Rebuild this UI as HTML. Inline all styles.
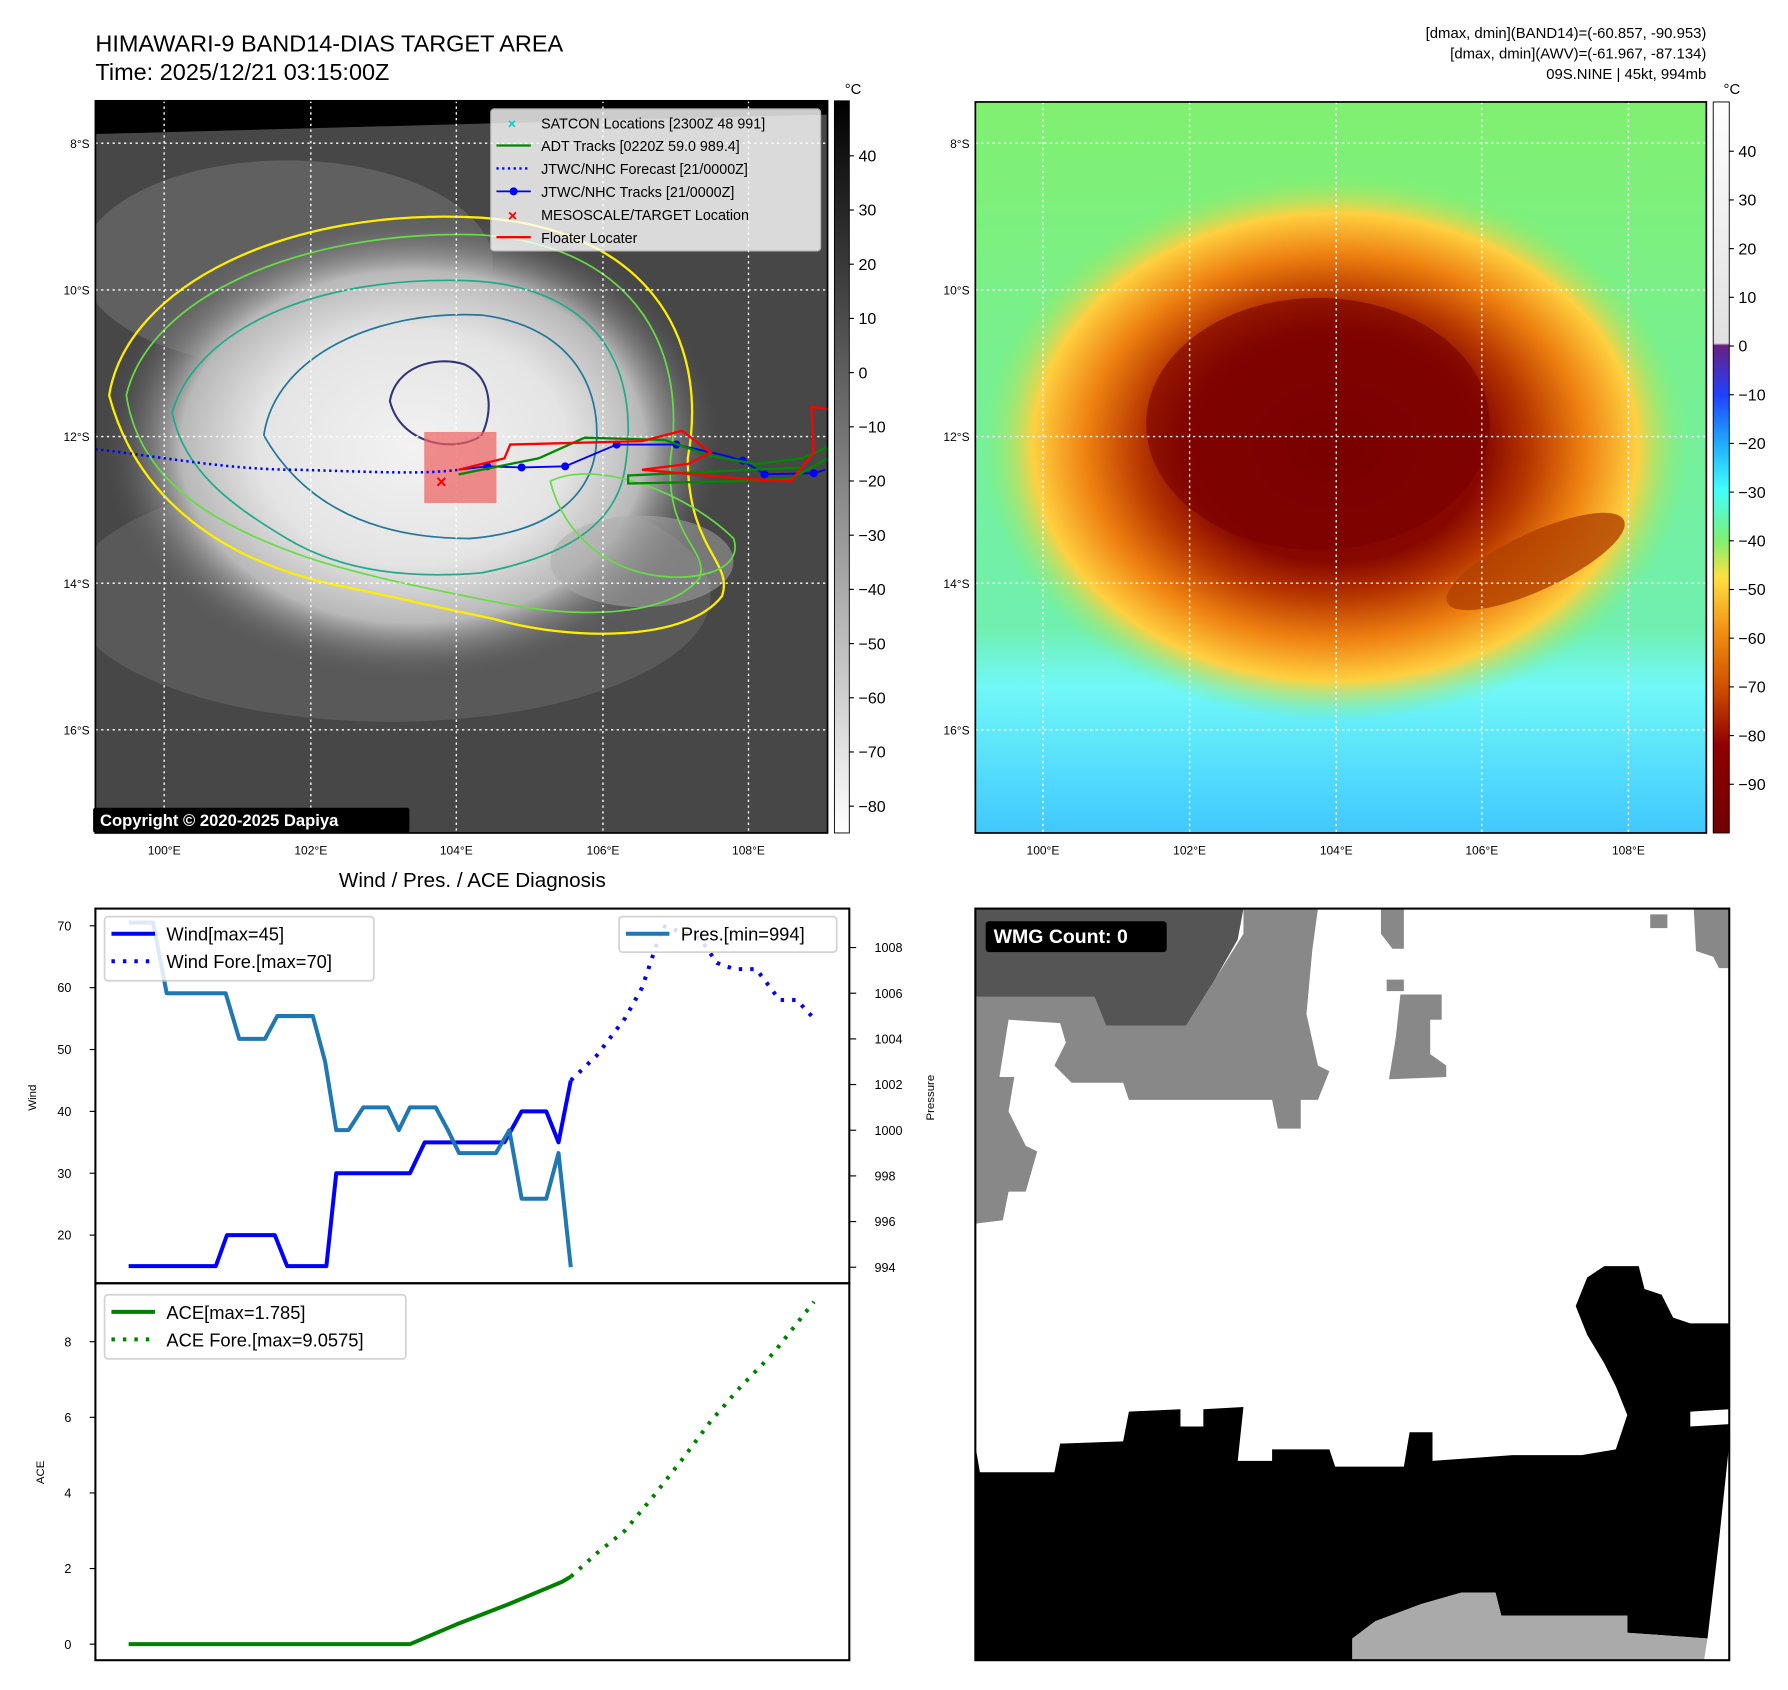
<!DOCTYPE html>
<html><head><meta charset="utf-8"><style>
html,body{margin:0;padding:0;background:#fff;}
svg{display:block;font-family:"Liberation Sans","DejaVu Sans",sans-serif;}
</style></head><body>
<svg id="root" width="1788" height="1690" viewBox="0 0 1560 1475" xmlns="http://www.w3.org/2000/svg">
<defs>
<radialGradient id="cloudL" cx="0.5" cy="0.5" r="0.5">
<stop offset="0" stop-color="#f2f2f2"/><stop offset="0.5" stop-color="#e4e4e4"/><stop offset="0.75" stop-color="#b8b8b8"/><stop offset="1" stop-color="#555" stop-opacity="0"/></radialGradient>
<radialGradient id="ringR" cx="0.5" cy="0.5" r="0.5">
<stop offset="0" stop-color="#7a0000"/><stop offset="0.42" stop-color="#880800"/><stop offset="0.55" stop-color="#b83800"/><stop offset="0.7" stop-color="#ee8010"/><stop offset="0.85" stop-color="#ffd040"/><stop offset="1" stop-color="#80f070" stop-opacity="0"/></radialGradient>
<linearGradient id="bgR" x1="0" y1="0" x2="0" y2="1">
<stop offset="0" stop-color="#80f070"/><stop offset="0.72" stop-color="#70f0b0"/><stop offset="0.8" stop-color="#70f8f8"/><stop offset="1" stop-color="#40c8ff"/></linearGradient>
<linearGradient id="cbL" x1="0" y1="0" x2="0" y2="1"><stop offset="0" stop-color="#000"/><stop offset="1" stop-color="#fff"/></linearGradient>
<linearGradient id="cbR" x1="0" y1="0" x2="0" y2="1">
<stop offset="0" stop-color="#fff"/><stop offset="0.33" stop-color="#e0e0e0"/><stop offset="0.333" stop-color="#6a2080"/><stop offset="0.40" stop-color="#2040ff"/><stop offset="0.47" stop-color="#20b0ff"/><stop offset="0.53" stop-color="#40ffff"/><stop offset="0.6" stop-color="#80f070"/><stop offset="0.65" stop-color="#ffe040"/><stop offset="0.73" stop-color="#f08a10"/><stop offset="0.8" stop-color="#d05000"/><stop offset="0.88" stop-color="#900000"/><stop offset="1" stop-color="#700000"/></linearGradient>
<clipPath id="clipL"><rect x="83" y="88" width="639" height="639"/></clipPath>
<clipPath id="clipR"><rect x="851" y="89" width="638" height="638"/></clipPath>
</defs>

<text x="83" y="45" font-size="20.5">HIMAWARI-9 BAND14-DIAS TARGET AREA</text>
<text x="83" y="70" font-size="20.5">Time: 2025/12/21 03:15:00Z</text>
<g font-size="13" text-anchor="end">
<text x="1489" y="33">[dmax, dmin](BAND14)=(-60.857, -90.953)</text>
<text x="1489" y="51">[dmax, dmin](AWV)=(-61.967, -87.134)</text>
<text x="1489" y="69">09S.NINE | 45kt, 994mb</text>
</g>

<g clip-path="url(#clipL)">
<rect x="83" y="88" width="639" height="639" fill="#474747"/>
<ellipse cx="250" cy="230" rx="180" ry="90" fill="#606060"/>
<ellipse cx="340" cy="520" rx="280" ry="110" fill="#595959"/>
<ellipse cx="360" cy="390" rx="270" ry="205" fill="url(#cloudL)"/>
<ellipse cx="560" cy="490" rx="80" ry="40" fill="#aaa" opacity="0.5"/>
<polygon points="83,88 722,88 722,100 600,103 83,117" fill="#000"/>
<path d="M95,345 C110,250 250,180 420,190 C560,200 620,290 600,400 C600,480 640,490 630,520 C600,560 500,560 430,540 C380,530 340,520 290,510 C200,490 120,440 95,345 Z" fill="none" stroke="#ffee00" stroke-width="2"/>
<path d="M110,345 C130,260 260,200 420,205 C550,215 600,300 585,400 C580,470 620,480 610,505 C580,540 500,540 430,525 C380,515 300,500 250,480 C170,450 120,410 110,345 Z" fill="none" stroke="#66dd44" stroke-width="1.5"/>
<path d="M150,360 C170,290 270,240 410,245 C520,250 560,320 545,410 C535,470 470,490 420,500 C360,505 300,500 250,470 C200,440 160,410 150,360 Z" fill="none" stroke="#22aa88" stroke-width="1.5"/>
<path d="M230,380 C240,310 330,270 420,275 C500,285 525,340 520,390 C515,440 470,465 410,470 C340,470 270,450 230,380 Z" fill="none" stroke="#227799" stroke-width="1.5"/>
<path d="M340,350 C345,320 380,310 405,318 C430,330 430,360 420,380 C400,395 350,390 340,350 Z" fill="none" stroke="#333377" stroke-width="1.8"/>
<path d="M480,420 C520,400 600,430 640,470 C650,500 600,510 560,500 C520,490 490,460 480,420 Z" fill="none" stroke="#66dd44" stroke-width="1.5"/>
<g stroke="#fff" stroke-width="1.2" stroke-dasharray="2,3">
<line x1="143" y1="88" x2="143" y2="727"/><line x1="271" y1="88" x2="271" y2="727"/><line x1="398" y1="88" x2="398" y2="727"/><line x1="526" y1="88" x2="526" y2="727"/><line x1="653" y1="88" x2="653" y2="727"/>
<line x1="83" y1="125" x2="722" y2="125"/><line x1="83" y1="253" x2="722" y2="253"/><line x1="83" y1="381" x2="722" y2="381"/><line x1="83" y1="509" x2="722" y2="509"/><line x1="83" y1="637" x2="722" y2="637"/>
</g>
<rect x="370" y="377" width="63" height="62" fill="#f06060" opacity="0.7"/>
<path d="M83,392 C150,400 200,410 260,410 C330,412 370,414 400,410" fill="none" stroke="#0000ff" stroke-width="2.2" stroke-dasharray="2,3"/>
<polyline points="400,410 425,407 455,408 493,407 538,388 590,388 630,397 648,402 667,414 710,413 720,410" fill="none" stroke="#0000ff" stroke-width="1.6"/>
<g fill="#0000ff"><circle cx="425" cy="407" r="3.5"/><circle cx="455" cy="408" r="3.5"/><circle cx="493" cy="407" r="3.5"/><circle cx="538" cy="388" r="3.5"/><circle cx="590" cy="388" r="3.5"/><circle cx="648" cy="402" r="3.5"/><circle cx="667" cy="414" r="3.5"/><circle cx="710" cy="413" r="3.5"/></g>
<polyline points="400,414 470,400 510,382 580,384 620,398 660,405 700,400 722,390 722,400 690,418 640,420 548,422 548,415 700,408" fill="none" stroke="#008800" stroke-width="2"/>
<polyline points="400,410 440,400 445,388 560,385 595,376 620,395 600,405 560,410 650,418 690,420 710,395 708,355 722,357 M652,378 690,395 720,390" fill="none" stroke="#ff0000" stroke-width="2"/>
<text x="385" y="426" font-size="16" fill="#ff0000" text-anchor="middle" font-weight="bold">×</text>
</g>
<rect x="83" y="88" width="639" height="639" fill="none" stroke="#000" stroke-width="1.5"/>
<rect x="81" y="705" width="276" height="22" fill="#000" rx="2"/>
<text x="87" y="721" font-size="14.5" font-weight="bold" fill="#fff">Copyright © 2020-2025 Dapiya</text>

<g>
<rect x="428" y="95" width="288" height="124" fill="#fff" opacity="0.8" rx="3" stroke="#ccc"/>
<g font-size="12.5">
<text x="443" y="112" fill="#00cccc" font-weight="bold" font-size="12">×</text><text x="472" y="112">SATCON Locations [2300Z 48 991]</text>
<line x1="433" y1="127" x2="463" y2="127" stroke="#008800" stroke-width="2"/><text x="472" y="132">ADT Tracks [0220Z 59.0 989.4]</text>
<line x1="433" y1="147" x2="463" y2="147" stroke="#0000ff" stroke-width="2" stroke-dasharray="2,3"/><text x="472" y="152">JTWC/NHC Forecast [21/0000Z]</text>
<line x1="433" y1="167" x2="463" y2="167" stroke="#0000ff" stroke-width="1.5"/><circle cx="448" cy="167" r="3.5" fill="#0000ff"/><text x="472" y="172">JTWC/NHC Tracks [21/0000Z]</text>
<text x="443" y="193" fill="#ff0000" font-weight="bold" font-size="14">×</text><text x="472" y="192">MESOSCALE/TARGET Location</text>
<line x1="433" y1="207" x2="463" y2="207" stroke="#ff0000" stroke-width="2"/><text x="472" y="212">Floater Locater</text>
</g></g>

<g font-size="10.5" text-anchor="end">
<text x="78" y="129">8°S</text><text x="78" y="257">10°S</text><text x="78" y="385">12°S</text><text x="78" y="513">14°S</text><text x="78" y="641">16°S</text>
<text x="846" y="129">8°S</text><text x="846" y="257">10°S</text><text x="846" y="385">12°S</text><text x="846" y="513">14°S</text><text x="846" y="641">16°S</text>
</g>
<g font-size="10.5" text-anchor="middle">
<text x="143" y="746">100°E</text><text x="271" y="746">102°E</text><text x="398" y="746">104°E</text><text x="526" y="746">106°E</text><text x="653" y="746">108°E</text>
<text x="910" y="746">100°E</text><text x="1038" y="746">102°E</text><text x="1166" y="746">104°E</text><text x="1293" y="746">106°E</text><text x="1421" y="746">108°E</text>
</g>

<g>
<rect x="728" y="88" width="13" height="639" fill="url(#cbL)" stroke="#000" stroke-width="0.8"/>
<text x="737" y="82" font-size="13">°C</text>
<g font-size="14" id="cbLticks"></g>
</g>

<g clip-path="url(#clipR)">
<rect x="851" y="89" width="638" height="638" fill="url(#bgR)"/>
<ellipse cx="1165" cy="390" rx="310" ry="240" fill="url(#ringR)"/>
<ellipse cx="1150" cy="370" rx="150" ry="110" fill="#7a0000" opacity="0.6"/>
<ellipse cx="1340" cy="490" rx="85" ry="25" fill="#b04000" opacity="0.8" transform="rotate(-25 1340 490)"/>
<g stroke="#fff" stroke-width="1.2" stroke-dasharray="2,3">
<line x1="910" y1="89" x2="910" y2="727"/><line x1="1038" y1="89" x2="1038" y2="727"/><line x1="1166" y1="89" x2="1166" y2="727"/><line x1="1293" y1="89" x2="1293" y2="727"/><line x1="1421" y1="89" x2="1421" y2="727"/>
<line x1="851" y1="125" x2="1489" y2="125"/><line x1="851" y1="253" x2="1489" y2="253"/><line x1="851" y1="381" x2="1489" y2="381"/><line x1="851" y1="509" x2="1489" y2="509"/><line x1="851" y1="637" x2="1489" y2="637"/>
</g>
</g>
<rect x="851" y="89" width="638" height="638" fill="none" stroke="#000" stroke-width="1.5"/>
<g>
<rect x="1495" y="89" width="14" height="638" fill="url(#cbR)" stroke="#000" stroke-width="0.8"/>
<text x="1504" y="82" font-size="13">°C</text>
<g font-size="14" id="cbRticks"></g>
</g>

<text x="412" y="774" font-size="18" text-anchor="middle">Wind / Pres. / ACE Diagnosis</text>
<g id="chart"></g>

<g>
<rect x="851" y="793" width="658" height="656" fill="#fff"/>
<polygon fill="#888" points="851,870 955,870 965,895 1035,895 1060,855 1085,815 1085,793 1150,793 1145,830 1140,885 1150,930 1160,935 1150,960 1135,960 1135,985 1115,985 1110,960 985,960 980,945 935,945 920,930 930,910 925,893 880,890 872,940 885,940 880,970 895,1000 905,1005 895,1040 880,1040 875,1065 851,1068"/>
<polygon fill="#555" points="851,793 1085,793 1080,820 1060,855 1035,895 965,895 955,870 851,870"/>
<polygon fill="#888" points="1205,793 1225,793 1225,828 1215,828 1205,815"/>
<polygon fill="#888" points="1440,798 1455,798 1455,810 1440,810"/>
<polygon fill="#888" points="1478,793 1509,793 1509,845 1500,845 1495,835 1480,830"/>
<polygon fill="#888" points="1210,855 1225,855 1225,865 1210,865"/>
<polygon fill="#888" points="1222,868 1258,868 1258,890 1248,890 1248,920 1262,930 1262,940 1212,942 1218,905"/>
<polygon fill="#000" points="851,1262 855,1285 920,1285 925,1260 980,1258 985,1232 1030,1230 1030,1245 1050,1245 1050,1230 1085,1228 1080,1275 1110,1275 1110,1265 1160,1265 1165,1280 1225,1280 1230,1250 1250,1250 1250,1275 1320,1270 1380,1270 1410,1265 1420,1235 1410,1210 1400,1190 1385,1165 1375,1140 1385,1115 1400,1105 1430,1105 1435,1125 1450,1130 1460,1150 1475,1155 1509,1155 1509,1230 1475,1232 1475,1245 1509,1243 1509,1260 1500,1345 1490,1430 1420,1425 1420,1410 1310,1410 1305,1390 1275,1390 1240,1400 1200,1415 1180,1430 1180,1449 851,1449"/>
<polygon fill="#aaa" points="1180,1430 1200,1415 1240,1400 1275,1390 1305,1390 1310,1410 1420,1410 1420,1425 1490,1430 1487,1449 1180,1449"/>
<rect x="851" y="793" width="658" height="656" fill="none" stroke="#000" stroke-width="1.8"/>
<rect x="860" y="804" width="158" height="27" rx="3" fill="#000"/>
<text x="867" y="823" font-size="17" font-weight="bold" fill="#fff">WMG Count: 0</text>
</g>
</svg>
<script>
const windTimes = [0,7.1,8.0,11.9,12.9,16.1,16.9,22.9,24.1,30.6,32.0,34.0,35.0,36.0];
const windValues = [15,15,20,20,15,15,30,30,35,35,40,40,35,45];
const windForeTimes = [36,38.1,40.4,41.8,43.5,46.5,47.9,49.3,51.1,53.0,54.4,55.8];
const windForeValues = [45,49,55,60,70,68,64,63,63,58,58,55];
const presTimes = [0,2.0,3.1,7.9,9.0,11.1,12.1,15.0,16.0,16.9,17.9,19.1,21.1,22.0,22.9,25.0,26.0,26.9,29.9,31.0,32.0,34.0,35.0,36.0];
const presValues = [1009.1,1009.1,1006,1006,1004,1004,1005,1005,1003,1000,1000,1001,1001,1000,1001,1001,1000,999,999,1000,997,997,999,994];
const aceTimes = [0,22.9,26.9,30.9,34.2,35.3,36];
const aceValues = [0,0,0.55,1.05,1.5,1.65,1.785];
const aceForeTimes = [36,38.1,40.4,42.7,45.1,47.4,49.8,52.5,55.8];
const aceForeValues = [1.785,2.4,3.0,3.9,4.9,5.9,6.8,7.7,9.0575];
const windTicks = [20,30,40,50,60,70];
const presTicks = [994,996,998,1000,1002,1004,1006,1008];
const aceTicks = [0,2,4,6,8];
const cbLTicks = [40,30,20,10,0,-10,-20,-30,-40,-50,-60,-70,-80];
const cbRTicks = [40,30,20,10,0,-10,-20,-30,-40,-50,-60,-70,-80,-90];

const NS = 'http://www.w3.org/2000/svg';
const xs = t => 112 + t * 10.72;
const yWind = v => 1078 - (v - 20) * 5.4;
const yPres = p => 827 + (1008 - p) * 19.93;
const yAce = v => 1435 - v * 33;
function mk(tag, attrs, parent) {
  const e = document.createElementNS(NS, tag);
  for (const k in attrs) e.setAttribute(k, attrs[k]);
  parent.appendChild(e);
  return e;
}
const chart = document.getElementById('chart');
const p1 = mk('rect', {x:83, y:793, width:658, height:327, fill:'none', stroke:'#000', 'stroke-width':1.8}, chart);


const p2 = mk('rect', {x:83, y:1120, width:658, height:329, fill:'none', stroke:'#000', 'stroke-width':1.8}, chart);



function ticks(list, yf, side, name) {
  list.forEach(v => {
    const y = yf(v);
    const g = mk('g', {}, chart);
    
    
    if (side === 'l') {
      mk('line', {x1:78, y1:y, x2:83, y2:y, stroke:'#000', 'stroke-width':1}, g);
      const t = mk('text', {x:62, y:y+4, 'font-size':11, 'text-anchor':'end'}, g); t.textContent = v;
    } else {
      mk('line', {x1:741, y1:y, x2:747, y2:y, stroke:'#000', 'stroke-width':1}, g);
      const t = mk('text', {x:763, y:y+4, 'font-size':11}, g); t.textContent = v;
    }
  });
}
ticks(windTicks, yWind, 'l', 'wind-tick');
ticks(presTicks, yPres, 'r', 'pressure-tick');
ticks(aceTicks, yAce, 'l', 'ace-tick');

function line(ts, vs, yf, color, w, dash, name) {
  const pts = ts.map((t, i) => xs(t).toFixed(1) + ',' + yf(vs[i]).toFixed(1)).join(' ');
  const a = {points: pts, fill:'none', stroke: color, 'stroke-width': w, 'stroke-linejoin':'round'};
  if (dash) a['stroke-dasharray'] = dash;
  const e = mk('polyline', a, chart);
  
  
}
line(windTimes, windValues, yWind, '#0000ff', 3.5, null, 'wind-line');
line(windForeTimes, windForeValues, yWind, '#0000ff', 3.5, '3,7', 'wind-forecast-line');
line(presTimes, presValues, yPres, '#1f77b4', 3.5, null, 'pressure-line');
line(aceTimes, aceValues, yAce, '#008000', 3.5, null, 'ace-line');
line(aceForeTimes, aceForeValues, yAce, '#008000', 3.5, '3,7', 'ace-forecast-line');

function txt(x, y, s, size, name, rot) {
  const t = mk('text', {x:x, y:y, 'font-size':size, 'text-anchor':'middle'}, chart);
  if (rot) t.setAttribute('transform', 'rotate(-90 ' + x + ' ' + y + ')');
  t.textContent = s;
  
  
}
txt(31, 958, 'Wind', 10, 'wind-axis-title', true);
txt(815, 958, 'Pressure', 10, 'pressure-axis-title', true);
txt(38, 1285, 'ACE', 10, 'ace-axis-title', true);

function legend(x, y, w, h, entries, name) {
  const g = mk('g', {}, chart);
  
  
  mk('rect', {x:x, y:y, width:w, height:h, rx:3, fill:'#fff', opacity:0.85, stroke:'#ccc', 'stroke-width':1.5}, g);
  entries.forEach((e, i) => {
    const yy = y + 15 + i * 24;
    const a = {x1:x+6, y1:yy, x2:x+44, y2:yy, stroke:e[1], 'stroke-width':3.5};
    if (e[2]) a['stroke-dasharray'] = '3,7';
    mk('line', a, g);
    const t = mk('text', {x:x+54, y:yy+6, 'font-size':16}, g); t.textContent = e[0];
  });
}
legend(91, 800, 235, 56, [['Wind[max=45]','#0000ff'],['Wind Fore.[max=70]','#0000ff',1]], 'wind-legend');
legend(540, 800, 190, 31, [['Pres.[min=994]','#1f77b4']], 'pressure-legend');
legend(91, 1130, 263, 56, [['ACE[max=1.785]','#008000'],['ACE Fore.[max=9.0575]','#008000',1]], 'ace-legend');

function cbt(id, list, x0, top, per10, top0) {
  const g = document.getElementById(id);
  list.forEach(v => {
    const y = top + (top0 - v) / 10 * per10;
    mk('line', {x1:x0, y1:y, x2:x0+4, y2:y, stroke:'#000'}, g);
    const t = mk('text', {x:x0+8, y:y+5}, g);
    t.textContent = v < 0 ? '\u2212' + Math.abs(v) : v;
  });
}
cbt('cbLticks', cbLTicks, 741, 136, 47.3, 40);
cbt('cbRticks', cbRTicks, 1509, 132, 42.5, 40);
</script>
</body></html>
